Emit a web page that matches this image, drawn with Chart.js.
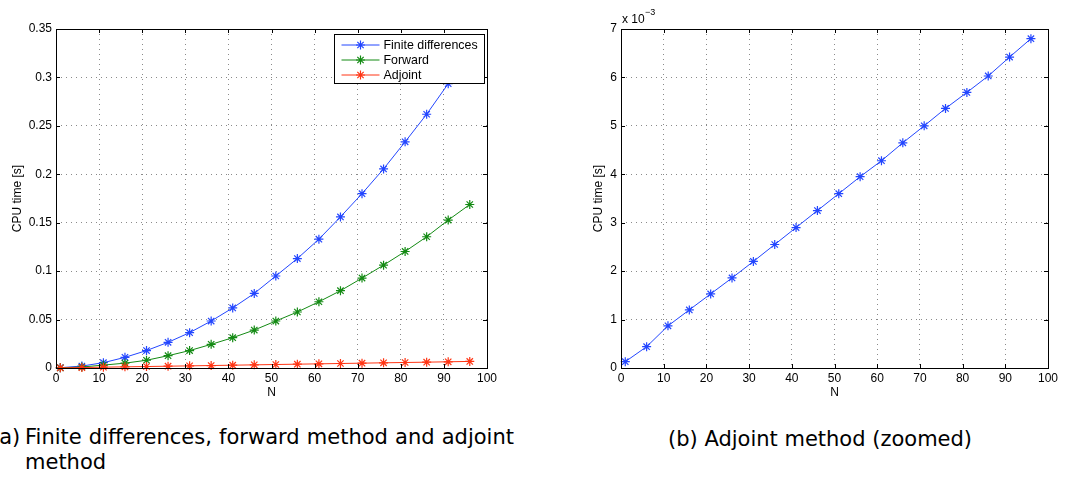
<!DOCTYPE html>
<html>
<head>
<meta charset="utf-8">
<script src="https://cdn.jsdelivr.net/npm/chart.js@4.4.0/dist/chart.umd.min.js"></script>
<style>
  html, body { margin: 0; padding: 0; background: #fff; }
  body { width: 1067px; height: 479px; position: relative; overflow: hidden; }
  canvas { position: absolute; top: 0; }
  #chartA { left: 0; }
  #chartB { left: 580px; }
  .cap { position: absolute; font-family: "DejaVu Sans", sans-serif; font-size: 21px; color: #000; }
</style>
</head>
<body>
<canvas id="chartA" width="540" height="405"></canvas>
<canvas id="chartB" width="487" height="405"></canvas>

<div class="cap" style="left:-9px; top:425px; line-height:25px;">(a)</div>
<div class="cap" style="left:25px; top:425px; width:489px; line-height:25px; text-align:justify; text-align-last:left;">
  <div style="text-align:justify; text-align-last:justify;">Finite differences, forward method and adjoint</div>
  <div>method</div>
</div>
<div class="cap" style="left:668px; top:429px; line-height:21px; white-space:nowrap;">(b) Adjoint method (zoomed)</div>

<script>
// CPU時間の比較グラフ (MATLABの図の再現)

const nValues = [1, 6, 11, 16, 21, 26, 31, 36, 41, 46, 51, 56, 61, 66, 71, 76, 81, 86, 91, 96];
const finiteDiffTime = [0.0003, 0.002, 0.0055, 0.011, 0.018, 0.0265, 0.0365, 0.0485, 0.062, 0.077,
                        0.095, 0.113, 0.133, 0.156, 0.180, 0.2055, 0.2335, 0.262, 0.2935, 0.329];
const forwardTime = [0.0002, 0.001, 0.003, 0.005, 0.008, 0.0127, 0.018, 0.0244, 0.0313, 0.0392,
                     0.0485, 0.0578, 0.0684, 0.0798, 0.0928, 0.1062, 0.1203, 0.1355, 0.1527, 0.1688];
// adjoint: 単位 x 10^-3 s
const adjointMs = [0.13, 0.44, 0.87, 1.2, 1.53, 1.86, 2.2, 2.55, 2.9, 3.25,
                   3.6, 3.95, 4.28, 4.65, 5.0, 5.36, 5.69, 6.03, 6.42, 6.8];

const xTicks = ['0', '10', '20', '30', '40', '50', '60', '70', '80', '90', '100'];
const yTicksA = ['0', '0.05', '0.1', '0.15', '0.2', '0.25', '0.3', '0.35'];
const yTicksB = ['0', '1', '2', '3', '4', '5', '6', '7'];

const seriesNames = ['Finite differences', 'Forward', 'Adjoint'];
const seriesColors = ['#2346ff', '#138a13', '#ff3514'];

const FONT = '"Liberation Sans", Arial, Helvetica, sans-serif';

const toPoints = (ys) => nValues.map((n, i) => ({ x: n, y: ys[i] }));

function lineSet(label, ys, color, order) {
    return {
        label: label,
        data: toPoints(ys),
        borderColor: color,
        backgroundColor: color,
        borderWidth: 1,
        pointStyle: 'star',
        pointRadius: 4.5,
        pointBorderWidth: 1.2,
        pointBorderColor: color,
        pointBackgroundColor: color,
        tension: 0,
        clip: false,
        order: order
    };
}

// 枠と内向きの目盛り
const frameTicks = {
    id: 'frameTicks',
    afterDatasetsDraw(chart) {
        const { ctx, chartArea: a, scales: { x, y } } = chart;
        ctx.save();
        ctx.strokeStyle = '#000';
        ctx.lineWidth = 1;
        ctx.beginPath();
        x.ticks.forEach(t => {
            const px = Math.round(x.getPixelForValue(t.value)) + 0.5;
            ctx.moveTo(px, a.bottom); ctx.lineTo(px, a.bottom - 4);
            ctx.moveTo(px, a.top); ctx.lineTo(px, a.top + 4);
        });
        y.ticks.forEach(t => {
            const py = Math.round(y.getPixelForValue(t.value)) + 0.5;
            ctx.moveTo(a.left, py); ctx.lineTo(a.left + 4, py);
            ctx.moveTo(a.right, py); ctx.lineTo(a.right - 4, py);
        });
        ctx.stroke();
        ctx.strokeRect(a.left + 0.5, a.top + 0.5, a.width, a.height);
        ctx.restore();
    }
};

function drawStar(ctx, cx, cy, r) {
    ctx.beginPath();
    ctx.moveTo(cx - r, cy); ctx.lineTo(cx + r, cy);
    ctx.moveTo(cx, cy - r); ctx.lineTo(cx, cy + r);
    const d = r * Math.SQRT1_2;
    ctx.moveTo(cx - d, cy - d); ctx.lineTo(cx + d, cy + d);
    ctx.moveTo(cx - d, cy + d); ctx.lineTo(cx + d, cy - d);
    ctx.stroke();
}

// 凡例 (プロット領域内に白い箱)
const boxLegend = {
    id: 'boxLegend',
    afterDatasetsDraw(chart) {
        const { ctx, chartArea: a } = chart;
        const x0 = a.right - 152.5, y0 = a.top + 5.5, w = 150, h = 49;
        ctx.save();
        ctx.fillStyle = '#fff';
        ctx.fillRect(x0, y0, w, h);
        ctx.strokeStyle = '#000';
        ctx.lineWidth = 1;
        ctx.strokeRect(x0, y0, w, h);
        ctx.font = '12.4px ' + FONT;
        ctx.textBaseline = 'middle';
        ctx.fillStyle = '#000';
        chart.data.datasets.forEach((ds, i) => {
            const ry = y0 + 10.5 + i * 15;
            ctx.strokeStyle = ds.borderColor;
            ctx.lineWidth = 1;
            ctx.beginPath();
            ctx.moveTo(x0 + 7, ry); ctx.lineTo(x0 + 45, ry);
            ctx.stroke();
            ctx.lineWidth = 1.2;
            drawStar(ctx, x0 + 26, ry, 4.5);
            ctx.fillText(ds.label, x0 + 49, ry + 0.5);
        });
        ctx.restore();
    }
};

// x 10^-3 の表示
const expLabel = {
    id: 'expLabel',
    afterDraw(chart) {
        const { ctx, chartArea: a } = chart;
        ctx.save();
        ctx.fillStyle = '#000';
        ctx.textBaseline = 'alphabetic';
        ctx.font = '12px ' + FONT;
        ctx.fillText('x 10', a.left + 1, 23);
        ctx.font = '9px ' + FONT;
        ctx.fillText('\u22123', a.left + 24, 15);
        ctx.restore();
    }
};

function axes(yMax, yStep, yLabels, titlePad, yWidth) {
    const common = {
        grid: { color: '#8a8a8a', lineWidth: 1, drawTicks: false },
        border: { display: false, dash: [1, 4] }
    };
    return {
        x: {
            type: 'linear', min: 0, max: 100,
            ...common,
            ticks: {
                stepSize: 10, autoSkip: false, maxRotation: 0, padding: 3, color: '#000',
                font: { family: FONT, size: 12 },
                callback: (v, i) => xTicks[i]
            },
            title: { display: true, text: 'N', color: '#000', font: { family: FONT, size: 12 }, padding: { top: 0, bottom: 5 } },
            afterFit: s => { s.height = 37; }
        },
        y: {
            type: 'linear', min: 0, max: yMax,
            ...common,
            ticks: {
                stepSize: yStep, autoSkip: false, padding: 4, color: '#000',
                font: { family: FONT, size: 12 },
                callback: (v, i) => yLabels[i]
            },
            title: { display: true, text: 'CPU time [s]', color: '#000', font: { family: FONT, size: 12 }, padding: { top: titlePad, bottom: 0 } },
            afterFit: s => { s.width = yWidth; }
        }
    };
}

const baseOptions = (scales, right) => ({
    responsive: false,
    animation: false,
    layout: { padding: { top: 29, right: right, bottom: 0, left: 0 } },
    plugins: { legend: { display: false }, tooltip: { enabled: false } },
    scales: scales
});

const adjointSec = adjointMs.map(v => v / 1000);

new Chart(document.getElementById('chartA').getContext('2d'), {
    type: 'line',
    data: {
        datasets: [
            lineSet(seriesNames[0], finiteDiffTime, seriesColors[0], 2),
            lineSet(seriesNames[1], forwardTime, seriesColors[1], 1),
            lineSet(seriesNames[2], adjointSec, seriesColors[2], 0)
        ]
    },
    options: baseOptions(axes(0.35, 0.05, yTicksA, 10, 56), 53),
    plugins: [frameTicks, boxLegend]
});

new Chart(document.getElementById('chartB').getContext('2d'), {
    type: 'line',
    data: {
        datasets: [lineSet('Adjoint', adjointMs, seriesColors[0], 0)]
    },
    options: baseOptions(axes(7, 1, yTicksB, 11, 41), 19),
    plugins: [frameTicks, expLabel]
});
</script>
</body>
</html>
